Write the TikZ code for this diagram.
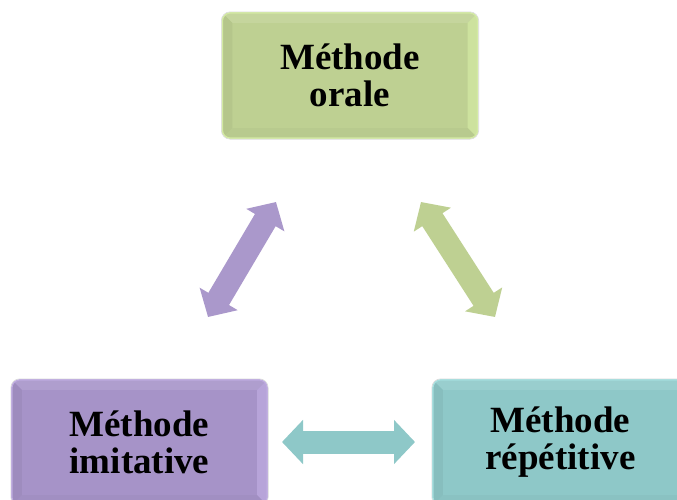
\documentclass[tikz,border=0pt]{standalone}
\usepackage{fontspec}
\setmainfont{Liberation Serif}
\usetikzlibrary{arrows.meta}
\definecolor{gface}{HTML}{BED092}
\definecolor{grim}{HTML}{D3EAA3}
\definecolor{pface}{HTML}{A693C8}
\definecolor{prim}{HTML}{BEABE0}
\definecolor{tface}{HTML}{8EC8C8}
\definecolor{trim}{HTML}{A4DEDE}
\tikzset{
  mbox/.style={rounded corners=8pt, minimum width=255pt, minimum height=125pt,
    inner sep=0pt, align=center, font=\bfseries\fontsize{37}{37}\selectfont},
  dblarrow/.style={line width=24pt, {Triangle[length=21pt,width=43pt]}-{Triangle[length=21pt,width=43pt]}},
}
\newcommand\bevel[3]{% name, face colour, rim colour
  \begin{scope}
    \clip[rounded corners=8pt] (#1.north west) rectangle (#1.south east);
    \fill[#2!90!white] (#1.north west) -- (#1.north east) -- ([shift={(-10,10)}]#1.north east) -- ([shift={(10,10)}]#1.north west) -- cycle;
    \fill[#2!95!black] (#1.north west) -- ([shift={(10,10)}]#1.north west) -- ([shift={(10,-10)}]#1.south west) -- (#1.south west) -- cycle;
    \fill[#3!70!#2] (#1.north east) -- ([shift={(-10,10)}]#1.north east) -- ([shift={(-10,-10)}]#1.south east) -- (#1.south east) -- cycle;
    \fill[#2!97!black] (#1.south west) -- ([shift={(10,-10)}]#1.south west) -- ([shift={(-10,-10)}]#1.south east) -- (#1.south east) -- cycle;
  \end{scope}
  \draw[#3, line width=1.5pt, rounded corners=8pt] (#1.north west) rectangle (#1.south east);
  \draw[black!15, line width=0.6pt, rounded corners=9pt] ([shift={(-1,-1)}]#1.north west) rectangle ([shift={(1,1)}]#1.south east);
}
\begin{document}
\begin{tikzpicture}[x=1pt,y=-1pt]
  \clip (0,0) rectangle (677,499);
  \fill[white] (0,0) rectangle (677,499);
  % boxes
  \node[mbox, fill=gface] (oral) at (350,75.5) {};
  \bevel{oral}{gface}{grim}
  \node[mbox, fill=none, draw=none] at (oral) {Méthode\\orale};
  \node[mbox, fill=pface] (imit) at (139.5,442.5) {};
  \bevel{imit}{pface}{prim}
  \node[mbox, fill=none, draw=none] at (imit) {Méthode\\imitative};
  \node[mbox, fill=tface] (rep) at (560.5,442.5) {};
  \bevel{rep}{tface}{trim}
  \node[mbox, fill=none, draw=none] at (rep) {Méthode\\répétitive};
  % arrow end points
  \coordinate (a1) at (276,202);
  \coordinate (a2) at (208,317);
  \coordinate (b1) at (421,202);
  \coordinate (b2) at (495,317);
  \coordinate (c1) at (282,442);
  \coordinate (c2) at (415,442);
  \draw[dblarrow, color=pface!95!white] (a1) -- (a2);
  \draw[dblarrow, color=gface] (b1) -- (b2);
  \draw[dblarrow, line width=23pt, color=tface] (c1) -- (c2);
\end{tikzpicture}
\end{document}
